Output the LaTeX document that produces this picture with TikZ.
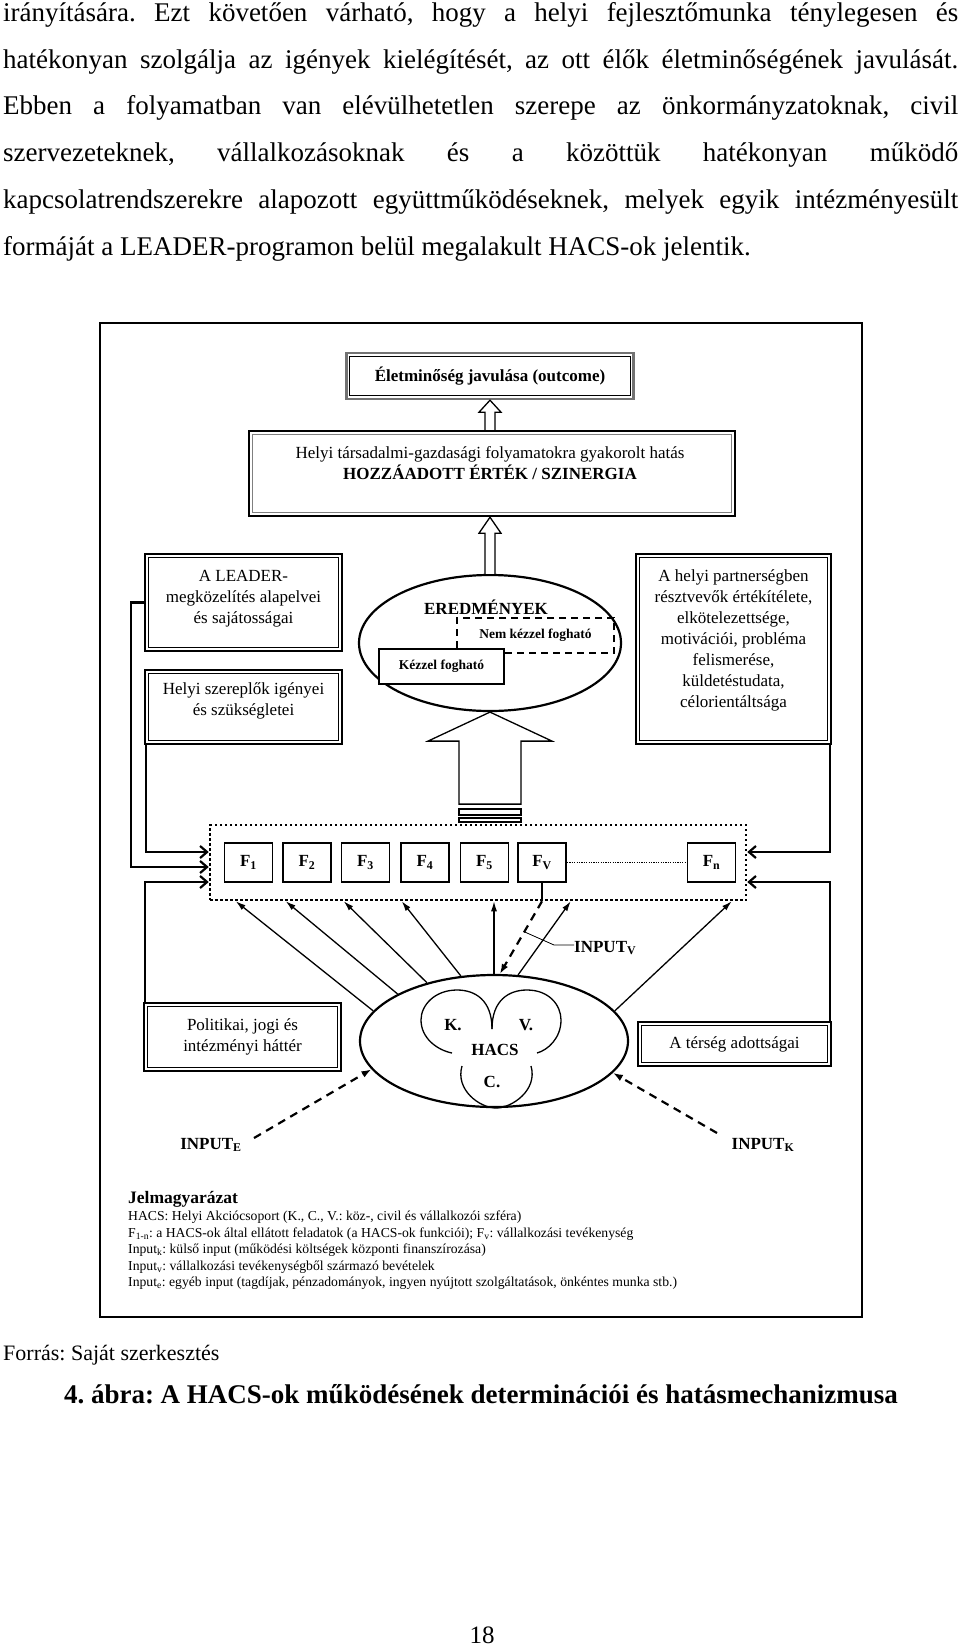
\documentclass[tikz,border=0pt]{standalone}
\usepackage{fontspec}
\setmainfont{Liberation Serif}
\usetikzlibrary{arrows.meta,shapes.geometric,calc}
\frenchspacing
\newcommand\bodyfont{\fontsize{27}{46.6}\selectfont}
\newcommand\figfont{\fontsize{17}{21}\selectfont}
\newcommand\smallfig{\fontsize{13.5}{16}\selectfont}
\newcommand\legfont{\fontsize{13.7}{16.5}\selectfont}
\newcommand\mysub[1]{\textsubscript{#1}}
\newcommand\innerln[2][black]{\draw[line width=1pt, #1] ($(#2.south west)+(4.4,-4.4)$) rectangle ($(#2.north east)+(-4.4,4.4)$);}
\begin{document}
\begin{tikzpicture}[x=1pt,y=-1pt,
  dbox/.style={draw, line width=2.4pt, inner sep=0pt},
  txt/.style={inner sep=0pt, align=center, font=\figfont},
  fbox/.style={draw, line width=1.8pt, minimum width=48pt, minimum height=39pt, inner sep=0pt, font=\figfont\bfseries},
  conn/.style={line width=2.2pt, -{Straight Barb[length=7pt,width=12pt]}},
  thinarr/.style={line width=1.3pt, -{Latex[length=10pt,width=6pt]}},
  dasharr/.style={line width=2.2pt, dash pattern=on 8pt off 6pt, -{Latex[length=10pt,width=7pt]}},
  hollow/.style={draw, line width=1.3pt, fill=white},
  lbl/.style={inner sep=0pt, font=\figfont\bfseries},
  body/.style={anchor=base west, inner sep=0pt, font=\bodyfont},
  leg/.style={anchor=base west, inner sep=0pt, font=\legfont},
]
\useasboundingbox (0,0) rectangle (960,1648);

% body text
\node[body] (l1) at (3,22) {\makebox[955pt][s]{irányítására. Ezt követően várható, hogy a helyi fejlesztőmunka ténylegesen és}};
\node[body] (l2) at (3,68.5) {\makebox[955pt][s]{hatékonyan szolgálja az igények kielégítését, az ott élők életminőségének javulását.}};
\node[body] (l3) at (3,115) {\makebox[955pt][s]{Ebben a folyamatban van elévülhetetlen szerepe az önkormányzatoknak, civil}};
\node[body] (l4) at (3,162) {\makebox[955pt][s]{szervezeteknek, vállalkozásoknak és a közöttük hatékonyan működő}};
\node[body] (l5) at (3,208) {\makebox[955pt][s]{kapcsolatrendszerekre alapozott együttműködéseknek, melyek egyik intézményesült}};
\node[body] (l6) at (3,255) {formáját a LEADER-programon belül megalakult HACS-ok jelentik.};

% frame
\draw[line width=2.5pt] (100,323) rectangle (862,1317);

% top boxes
\node[dbox, draw=black!55, minimum width=287pt, minimum height=46pt, font=\figfont\bfseries] (eletm) at (490,376) {Életminőség javulása (outcome)};
\innerln{eletm}
\node[dbox, minimum width=486pt, minimum height=85pt] (helyi) at (492,473.5) {};
\innerln[black!50]{helyi}
\node[txt] (helyit) at (490,463.5) {Helyi társadalmi-gazdasági folyamatokra gyakorolt hatás\\ \textbf{HOZZÁADOTT ÉRTÉK / SZINERGIA}};

% left / right boxes
\node[dbox, minimum width=197pt, minimum height=97pt] (box1) at (243.5,602.5) {};
\innerln{box1}
\node[txt] (box1t) at (243.5,599) {A LEADER-\\ megközelítés alapelvei\\ és sajátosságai};
\node[dbox, minimum width=197pt, minimum height=74pt] (box2) at (243.5,707) {};
\innerln{box2}
\node[txt] (box2t) at (243.5,701) {Helyi szereplők igényei\\ és szükségletei};
\node[dbox, minimum width=195pt, minimum height=190pt] (rb) at (733.5,649) {};
\innerln{rb}
\node[txt] (rbt) at (733.5,640.5) {A helyi partnerségben\\ résztvevők értékítélete,\\ elkötelezettsége,\\ motivációi, probléma\\ felismerése,\\ küldetéstudata,\\ célorientáltsága};

% hollow arrows
\draw[hollow] ($(eletm.south |- helyi.north)+(-5,0)$) -- ($(eletm.south)+(-5,12)$) -- ++(-6,0) -- (eletm.south) -- ++(11,12) -- ++(-6,0) -- ($(eletm.south |- helyi.north)+(5,0)$);

% results ellipse
\node[draw, ellipse, line width=2.2pt, minimum width=262pt, minimum height=136pt, inner sep=0pt] (ered) at (490,643) {};
\draw[hollow] ($(ered.north)+(-5,0)$) -- ($(helyi.south -| ered.north)+(-5,16)$) -- ++(-6,0) -- (helyi.south -| ered.north) -- ++(11,16) -- ++(-6,0) -- ($(ered.north)+(5,0)$);
\node[lbl] (eredt) at (486,607) {EREDMÉNYEK};
\node[draw, line width=2pt, dash pattern=on 7pt off 5pt, minimum width=157pt, minimum height=35pt, inner sep=0pt, font=\smallfig\bfseries] (nem) at (535.5,635.5) {Nem kézzel fogható};
\node[draw, fill=white, line width=1.8pt, minimum width=125pt, minimum height=35pt, inner sep=0pt, font=\smallfig\bfseries] (kez) at (441.5,666.5) {Kézzel fogható};

% big hollow arrow
\draw[hollow] (ered.south) -- ++(62,29) -- ++(-31,0) -- ++(0,63) -- ++(-62,0) -- ++(0,-63) -- ++(-31,0) -- cycle;
\draw[hollow] ($(ered.south)+(-31,97)$) rectangle ++(62,6);
\draw[hollow] ($(ered.south)+(-31,106)$) rectangle ++(62,4);

% function group
\node[draw, line width=2.5pt, dash pattern=on 2.5pt off 2.5pt, minimum width=536pt, minimum height=75pt, inner sep=0pt] (fg) at (478,862.5) {};
\node[fbox] (f1) at (248.5,862.5) {F\mysub{1}};
\node[fbox] (f2) at (307,862.5) {F\mysub{2}};
\node[fbox] (f3) at (365.5,862.5) {F\mysub{3}};
\node[fbox] (f4) at (425,862.5) {F\mysub{4}};
\node[fbox] (f5) at (484.5,862.5) {F\mysub{5}};
\node[fbox] (fv) at (542,862.5) {F\mysub{V}};
\node[fbox] (fn) at (711.5,862.5) {F\mysub{n}};
\draw[line width=1.2pt, dash pattern=on 1.2pt off 1.2pt] (fv.east) -- (fn.west);

% lower boxes
\node[dbox, minimum width=197pt, minimum height=68pt] (pol) at (242.5,1037) {};
\innerln{pol}
\node[txt] (polt) at (242.5,1036.5) {Politikai, jogi és\\ intézményi háttér};
\node[dbox, minimum width=193pt, minimum height=44pt, font=\figfont] (ter) at (734.5,1044) {A térség adottságai};
\innerln{ter}

% side connectors
\draw[conn] (box1.west) -- ++(-13,0) |- ($(fg.west)+(0,4.5)$);
\draw[conn] ($(box2.south west)+(2,0)$) |- ($(fg.west)+(0,-10.5)$);
\draw[conn] ($(pol.north west)+(2,0)$) |- ($(fg.west)+(0,19.5)$);
\draw[conn] ($(rb.south east)+(-2,0)$) |- ($(fg.east)+(0,-10.5)$);
\draw[conn] ($(ter.north east)+(-2,0)$) |- ($(fg.east)+(0,19.5)$);

% HACS ellipse
\node[draw, ellipse, line width=2.2pt, minimum width=268pt, minimum height=132pt, inner sep=0pt] (hacs) at (494,1041) {};
\draw[line width=1.3pt] (492,1029) .. controls (492,1000) and (475,990) .. (457,990) .. controls (435,990) and (421,1005) .. (421,1020) .. controls (421,1038) and (437,1050) .. (452,1053);
\draw[line width=1.3pt] (492,1029) .. controls (492,1000) and (509,990) .. (527,990) .. controls (549,990) and (561,1005) .. (561,1020) .. controls (561,1038) and (548,1050) .. (537,1053);
\draw[line width=1.3pt] (462,1066) .. controls (455,1090) and (480,1108) .. (496,1108) .. controls (512,1108) and (538,1090) .. (531,1066);
\node[lbl] (hk) at (453,1025) {K.};
\node[lbl] (hv) at (526,1025) {V.};
\node[lbl] (hh) at (495,1050) {HACS};
\node[lbl] (hc) at (492,1082) {C.};

% arrows HACS -> functions
\draw[thinarr] (hacs.166.8) -- ($(fg.south west)+(27,0)$);
\draw[thinarr] (hacs.154.8) -- ($(fg.south west)+(77,0)$);
\draw[thinarr] (hacs.139) -- ($(fg.south west)+(135,0)$);
\draw[thinarr] (hacs.117.3) -- ($(fg.south west)+(193,0)$);
\draw[thinarr] (hacs.north) -- (hacs.north |- fg.south);
\draw[thinarr] (hacs.70.6) -- ($(fg.south west)+(362,0)$);
\draw[thinarr] (hacs.14.3) -- ($(fg.south west)+(523,0)$);

% INPUT V
\coordinate (ivs) at (fv.south |- fg.south);
\draw[line width=1.4pt] (fv.south) -- (ivs);
\draw[dasharr] (ivs) -- (hacs.85);
\node[lbl, anchor=west] (inv) at (574,948) {INPUT\mysub{V}};
\coordinate (ivm) at ($(ivs)!0.42!(hacs.85)$);
\draw[line width=0.8pt] ($(inv.west)+(0,-3)$) -- ++(-20,0) -- (ivm);

% INPUT E / K
\node[lbl] (ine) at (211,1145) {INPUT\mysub{E}};
\node[lbl] (ink) at (763,1145) {INPUT\mysub{K}};
\coordinate (ies) at (254,1138);
\coordinate (iks) at (717,1133);
\draw[dasharr] (ies) -- (hacs.193);
\draw[dasharr] (iks) -- (hacs.345.3);

% legend
\node[anchor=base west, inner sep=0pt, font=\fontsize{17.5}{21}\selectfont\bfseries] (jel) at (128,1203) {Jelmagyarázat};
\node[leg] (g1) at (128,1220) {HACS: Helyi Akciócsoport (K., C., V.: köz-, civil és vállalkozói szféra)};
\node[leg] (g2) at (128,1237) {F\mysub{1-n}: a HACS-ok által ellátott feladatok (a HACS-ok funkciói); F\mysub{v}: vállalkozási tevékenység};
\node[leg] (g3) at (128,1253) {Input\mysub{k}: külső input (működési költségek központi finanszírozása)};
\node[leg] (g4) at (128,1270) {Input\mysub{v}: vállalkozási tevékenységből származó bevételek};
\node[leg] (g5) at (128,1286) {Input\mysub{e}: egyéb input (tagdíjak, pénzadományok, ingyen nyújtott szolgáltatások, önkéntes munka stb.)};

% caption
\node[anchor=base west, inner sep=0pt, font=\fontsize{22}{26}\selectfont] (forras) at (3,1360) {Forrás: Saját szerkesztés};
\node[anchor=base, inner sep=0pt, font=\fontsize{27}{30}\selectfont\bfseries] (capt) at (481,1403) {4. ábra: A HACS-ok működésének determinációi és hatásmechanizmusa};
\node[anchor=base, inner sep=0pt, font=\fontsize{25}{30}\selectfont] (pg) at (482,1643) {18};
\end{tikzpicture}
\end{document}
